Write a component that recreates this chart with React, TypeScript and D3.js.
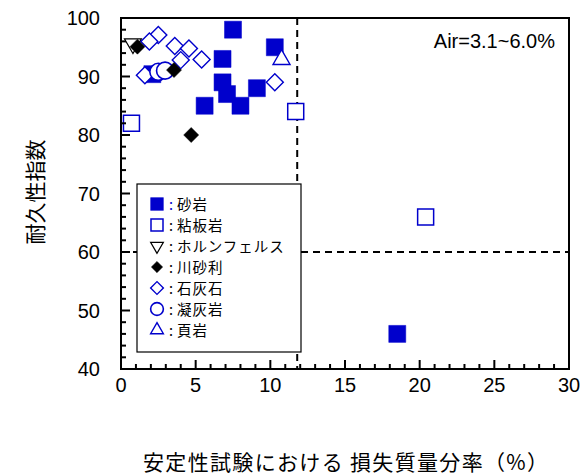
import React from "react";
import * as d3 from "d3";

// Durability index vs. mass loss in soundness test, by rock type
const sandstone: [number, number][] = [
  [7.5, 98], [10.3, 95], [6.8, 93], [6.8, 89], [7.1, 87], [9.1, 88],
  [8.0, 85], [5.6, 85], [2.1, 90.4], [18.5, 46],
];
const slate: [number, number][] = [[0.7, 82], [11.7, 84], [20.4, 66]];
const hornfels: [number, number][] = [[0.8, 95.6]];
const riverGravel: [number, number][] = [[1.1, 95.1], [3.55, 91.1], [4.7, 80]];
const limestone: [number, number][] = [
  [2.5, 97.1], [1.9, 96], [3.6, 95.2], [4.55, 94.8], [4.0, 92.8],
  [5.4, 92.9], [1.6, 90.2], [10.3, 89],
];
const tuff: [number, number][] = [[2.5, 90.8], [2.95, 91.0]];
const shale: [number, number][] = [[10.75, 92.9]];

const xTicks = [0, 5, 10, 15, 20, 25, 30];
const yTicks = [40, 50, 60, 70, 80, 90, 100];
const legendLabels = ["砂岩", "粘板岩", "ホルンフェルス", "川砂利", "石灰石", "凝灰岩", "頁岩"];
const xTitle = "安定性試験における 損失質量分率（%）";
const yTitle = "耐久性指数";
const note = "Air=3.1~6.0%";
const thresholdX = 11.8;
const thresholdY = 60;

const BLUE = "#0000cc";
const W = 588, H = 475;
const L = 121, R = 569, T = 18, B = 369;
const NUM_FONT = "'Liberation Sans', Arial, sans-serif";
const JP_FONT = "'Noto Sans CJK JP', 'Noto Sans', sans-serif";

type Style = { shape: string; fill: string; stroke: string; sw: number; size: number; rotate: number; };

const styles: Style[] = [
  { shape: "square", fill: BLUE, stroke: BLUE, sw: 0.5, size: 17, rotate: 0 },
  { shape: "square", fill: "#fff", stroke: BLUE, sw: 1.5, size: 16, rotate: 0 },
  { shape: "triangle", fill: "#fff", stroke: "#000", sw: 1.2, size: 17, rotate: 180 },
  { shape: "diamond", fill: "#000", stroke: "#000", sw: 0.5, size: 15, rotate: 0 },
  { shape: "diamond", fill: "#fff", stroke: BLUE, sw: 1.4, size: 17, rotate: 0 },
  { shape: "circle", fill: "#fff", stroke: BLUE, sw: 1.6, size: 17, rotate: 0 },
  { shape: "triangle", fill: "#fff", stroke: BLUE, sw: 1.4, size: 17, rotate: 0 },
];

function symbolPath(shape: string, w: number): string {
  if (shape === "square") return d3.symbol(d3.symbolSquare, w * w)() as string;
  if (shape === "diamond") {
    const s = w / Math.SQRT2;
    return d3.symbol(d3.symbolSquare, s * s)() as string;
  }
  if (shape === "circle") return d3.symbol(d3.symbolCircle, Math.PI * (w / 2) * (w / 2))() as string;
  return d3.symbol(d3.symbolTriangle, (Math.sqrt(3) / 4) * w * w)() as string;
}

function Marker({ st, x, y, scale = 1 }: { st: Style; x: number; y: number; scale?: number }) {
  const rot = st.shape === "diamond" ? 45 : st.rotate;
  return (
    <path
      d={symbolPath(st.shape, st.size * scale)}
      transform={`translate(${x},${y}) rotate(${rot})`}
      fill={st.fill}
      stroke={st.stroke}
      strokeWidth={st.sw}
    />
  );
}

export default function App() {
  const x = d3.scaleLinear().domain([0, 30]).range([L, R]);
  const y = d3.scaleLinear().domain([40, 100]).range([B, T]);

  const series = [sandstone, slate, hornfels, riverGravel, limestone, tuff, shale];
  const drawOrder = [0, 1, 2, 4, 5, 6, 3];

  const xMinor = d3.range(0, 31, 1);
  const yMinor = d3.range(40, 101, 2);

  const legX = 137, legY = 184, legW = 164, legH = 168;

  return (
    <svg width={W} height={H} style={{ position: "absolute", left: 0, top: 0, background: "#fff" }}>
      {/* threshold lines */}
      <line x1={x(thresholdX)} x2={x(thresholdX)} y1={T} y2={B} stroke="#000" strokeWidth={2} strokeDasharray="7,5" />
      <line x1={L} x2={R} y1={y(thresholdY)} y2={y(thresholdY)} stroke="#000" strokeWidth={2} strokeDasharray="7,5" />

      {/* legend */}
      <rect x={legX} y={legY} width={legW} height={legH} fill="#fff" stroke="#000" strokeWidth={1.2} />
      {legendLabels.map((lab, i) => {
        const cy = 204 + i * 21;
        return (
          <g key={lab}>
            <Marker st={styles[i]} x={157} y={cy} scale={0.75} />
            <text x={169} y={cy + 5.5} fontFamily={JP_FONT} fontSize={14.5} letterSpacing={1} fill="#000">
              <tspan fill={i === 0 ? BLUE : "#000"}>:</tspan>
              <tspan dx={3}>{lab}</tspan>
            </text>
          </g>
        );
      })}

      {/* data points */}
      {drawOrder.map((si) =>
        series[si].map((d, j) => (
          <Marker key={`${si}-${j}`} st={styles[si]} x={x(d[0])} y={y(d[1])} />
        ))
      )}

      {/* frame */}
      <rect x={L} y={T} width={R - L} height={B - T} fill="none" stroke="#000" strokeWidth={2} />

      {/* ticks (inward) */}
      {xMinor.map((v) => (
        <line key={`xm${v}`} x1={x(v)} x2={x(v)} y1={B} y2={B - (v % 5 === 0 ? 9 : 5)} stroke="#000" strokeWidth={2} />
      ))}
      {yMinor.map((v) => (
        <line key={`ym${v}`} x1={L} x2={L + (v % 10 === 0 ? 9 : 5)} y1={y(v)} y2={y(v)} stroke="#000" strokeWidth={2} />
      ))}

      {/* tick labels */}
      {xTicks.map((v) => (
        <text key={`xl${v}`} x={x(v)} y={B + 23} textAnchor="middle" fontFamily={NUM_FONT} fontSize={20} fill="#000">{v}</text>
      ))}
      {yTicks.map((v) => (
        <text key={`yl${v}`} x={L - 21} y={y(v) + 7} textAnchor="end" fontFamily={NUM_FONT} fontSize={20} fill="#000">{v}</text>
      ))}

      {/* annotation */}
      <text x={555} y={48} textAnchor="end" fontFamily={NUM_FONT} fontSize={20} fill="#000">{note}</text>

      {/* axis titles */}
      <text x={143} y={470} textLength={405} lengthAdjust="spacing" fontFamily={JP_FONT} fontSize={21} fill="#000">{xTitle}</text>
      <text transform={`translate(43,192) rotate(-90)`} textAnchor="middle" fontFamily={JP_FONT} fontSize={21} fill="#000">{yTitle}</text>
    </svg>
  );
}
